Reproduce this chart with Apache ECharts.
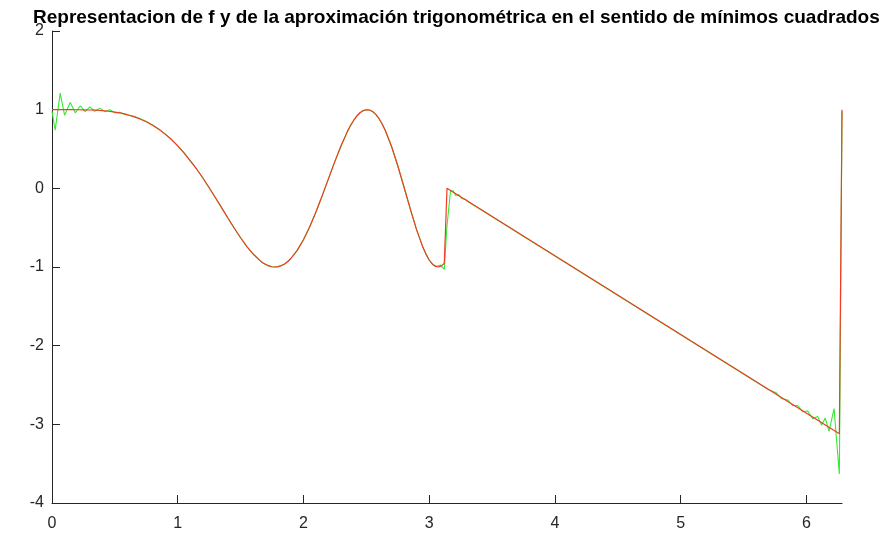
<!DOCTYPE html>
<html>
<head>
<meta charset="utf-8">
<script src="https://cdn.jsdelivr.net/npm/echarts@6/dist/echarts.min.js"></script>
<style>html,body{margin:0;padding:0;background:#fff;}#c{width:886px;height:535px;}</style>
</head>
<body>
<div id="c"></div>
<script>
// ---- data ----
const titleText = 'Representacion de f y de la aproximación trigonométrica en el sentido de mínimos cuadrados';
const xTicks = [0, 1, 2, 3, 4, 5, 6];
const yTicks = [-4, -3, -2, -1, 0, 1, 2];

// f (red)
const fX = [0,0.05,0.10,0.15,0.20,0.25,0.30,0.35,0.40,0.45,0.50,0.55,0.60,0.65,0.70,0.75,0.80,0.85,0.90,0.95,
  1.00,1.05,1.10,1.15,1.20,1.25,1.30,1.35,1.40,1.45,1.50,1.55,1.60,1.65,1.675,1.70,1.725,1.75,1.775,1.80,1.825,1.85,1.875,1.90,1.95,
  2.00,2.05,2.10,2.15,2.20,2.25,2.30,2.35,2.375,2.40,2.425,2.45,2.475,2.50,2.525,2.55,2.575,2.60,2.625,2.65,2.70,2.75,2.80,2.85,2.90,2.95,2.975,
  3.00,3.025,3.05,3.075,3.10,3.12,3.1416,6.2622,6.2832];
const fY = [1.000,1.000,1.000,1.000,0.999,0.998,0.996,0.993,0.987,0.980,0.969,0.955,0.936,0.912,0.882,0.846,0.802,0.750,0.689,0.620,
  0.540,0.451,0.350,0.246,0.131,0.008,-0.119,-0.249,-0.380,-0.507,-0.628,-0.740,-0.835,-0.913,-0.945,-0.968,-0.986,-0.997,-1.000,-0.995,-0.982,-0.962,-0.931,-0.892,-0.789,
  -0.654,-0.489,-0.298,-0.090,0.127,0.343,0.545,0.724,0.801,0.866,0.920,0.961,0.988,0.999,0.996,0.976,0.940,0.888,0.821,0.739,0.535,0.287,0.014,-0.265,-0.528,-0.750,-0.839,
  -0.911,-0.963,-0.993,-1.000,-0.983,-0.952,0.000,-3.120,1.000];

// trigonometric least-squares approximation (green)
const gX = [0,0.025,0.065,0.10,0.145,0.185,0.225,0.265,0.30,0.34,0.38,0.42,0.46,0.50,0.54,0.58,0.62,
  0.65,0.70,0.75,0.80,0.85,0.90,0.95,1.00,1.05,1.10,1.15,1.20,1.25,1.30,1.35,1.40,1.45,1.50,1.55,1.60,1.65,1.675,1.70,1.725,1.75,1.775,1.80,1.825,1.85,1.875,1.90,1.95,
  2.00,2.05,2.10,2.15,2.20,2.25,2.30,2.35,2.375,2.40,2.425,2.45,2.475,2.50,2.525,2.55,2.575,2.60,2.625,2.65,2.70,2.75,2.80,2.85,2.90,2.95,2.975,
  3.00,3.03,3.06,3.09,3.12,3.14,3.17,3.19,3.21,3.235,3.26,3.29,3.32,3.40,
  5.70,5.76,5.80,5.85,5.89,5.93,5.97,6.01,6.05,6.09,6.12,6.15,6.18,6.22,6.24,6.2622,6.2832];
const gY = [0.98,0.74,1.21,0.93,1.09,0.96,1.05,0.975,1.035,0.98,1.02,0.975,1.00,0.96,0.965,0.94,0.925,
  0.915,0.886,0.849,0.806,0.752,0.692,0.622,0.540,0.451,0.350,0.246,0.131,0.008,-0.119,-0.249,-0.380,-0.507,-0.628,-0.740,-0.835,-0.913,-0.945,-0.968,-0.986,-0.997,-1.000,-0.995,-0.982,-0.962,-0.931,-0.892,-0.789,
  -0.654,-0.489,-0.298,-0.090,0.127,0.343,0.545,0.724,0.801,0.866,0.920,0.961,0.988,0.999,0.996,0.976,0.940,0.888,0.821,0.739,0.535,0.287,0.014,-0.265,-0.528,-0.750,-0.839,
  -0.911,-0.97,-0.99,-0.975,-1.03,-0.50,-0.03,-0.03,-0.09,-0.08,-0.13,-0.14,-0.18,-0.26,
  -2.56,-2.60,-2.67,-2.69,-2.76,-2.76,-2.84,-2.83,-2.93,-2.90,-3.01,-2.92,-3.09,-2.80,-3.20,-3.63,0.98];

const pairs = (xs, ys) => xs.map((x, i) => [x, ys[i]]);

const axisColor = '#262626';
const font = "'Liberation Sans', Arial, Helvetica, sans-serif";

const chart = echarts.init(document.getElementById('c'), null, {renderer: 'canvas'});
chart.setOption({
  animation: false,
  backgroundColor: '#ffffff',
  title: {
    text: titleText,
    left: 33,
    top: 8,
    padding: 0,
    textStyle: {fontSize: 19, fontWeight: 'bold', color: '#000000', fontFamily: font}
  },
  grid: {left: 52, top: 31, right: 44, bottom: 32, containLabel: false},
  xAxis: {
    type: 'value',
    min: 0,
    max: 2 * Math.PI,
    interval: 1,
    axisLine: {show: true, onZero: false, lineStyle: {color: axisColor, width: 1}},
    axisTick: {show: true, inside: true, length: 8, customValues: xTicks, lineStyle: {color: axisColor}},
    axisLabel: {show: true, customValues: xTicks, color: axisColor, fontSize: 16, fontFamily: font, margin: 13},
    splitLine: {show: false}
  },
  yAxis: {
    type: 'value',
    min: -4,
    max: 2,
    interval: 1,
    axisLine: {show: true, onZero: false, lineStyle: {color: axisColor, width: 1}},
    axisTick: {show: true, inside: true, length: 8, customValues: yTicks, lineStyle: {color: axisColor}},
    axisLabel: {show: true, customValues: yTicks, color: axisColor, fontSize: 16, fontFamily: font, margin: 8},
    splitLine: {show: false}
  },
  series: [
    {
      name: 'aprox', type: 'line', data: pairs(gX, gY), showSymbol: false, symbol: 'none',
      lineStyle: {color: 'rgb(50,235,50)', width: 1.1}, z: 2
    },
    {
      name: 'f', type: 'line', data: pairs(fX, fY), showSymbol: false, symbol: 'none',
      lineStyle: {color: 'rgb(240,60,35)', width: 1.2}, z: 3
    }
  ]
});
</script>
</body>
</html>
